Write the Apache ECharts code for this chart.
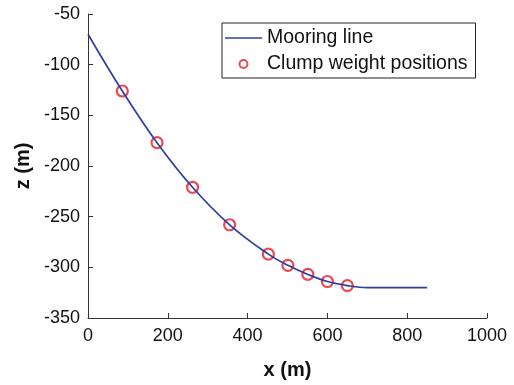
<!DOCTYPE html>
<html><head><meta charset="utf-8">
<script src="https://cdn.jsdelivr.net/npm/echarts@6/dist/echarts.min.js"></script>
<style>html,body{margin:0;padding:0;background:#fff}#c{width:514px;height:385px}</style>
</head><body><div id="c"></div>
<script>
const lineX = [0, 86, 173, 262, 355, 452, 501, 551, 600, 650, 700, 750, 800, 850];
const lineZ = [-70, -126, -177, -221, -258, -287, -298, -307, -314, -318, -320, -320, -320, -320];
const clumpX = [86, 173, 262, 355, 452, 501, 551, 600, 650];
const clumpZ = [-126, -177, -221, -258, -287, -298, -307, -314, -318];
const xTicks = [0, 200, 400, 600, 800, 1000];
const zTicks = [-350, -300, -250, -200, -150, -100, -50];

const chart = echarts.init(document.getElementById('c'));
const font = 'Liberation Sans, Arial, sans-serif';
chart.setOption({
  animation: false,
  grid: {left: 88, top: 14, right: 27, bottom: 65},
  legend: {
    orient: 'vertical', left: 222, top: 23,
    padding: [5, 8, 4, 3], itemGap: 6,
    borderColor: '#222', borderWidth: 1, backgroundColor: '#fff',
    itemWidth: 37, itemHeight: 8,
    textStyle: {fontFamily: font, fontSize: 19.5, color: '#111', padding: [0, 0, 0, 0]},
    data: [
      {name: 'Mooring line', icon: 'path://M0,0H37V0.02H0ZM0,3.2H37V4.8H0ZM0,7.98H37V8H0Z'},
      {name: 'Clump weight positions', icon: 'circle'}
    ]
  },
  xAxis: {
    type: 'value', min: 0, max: 1000, interval: 200,
    name: 'x (m)', nameLocation: 'middle', nameGap: 42,
    nameTextStyle: {fontFamily: font, fontSize: 20, fontWeight: 'bold', color: '#111'},
    axisLine: {show: true, lineStyle: {color: '#333'}},
    axisTick: {show: true, inside: true, length: 5, lineStyle: {color: '#333'}},
    axisLabel: {fontFamily: font, fontSize: 18, color: '#111', margin: 9,
      formatter: v => xTicks.includes(v) ? String(v) : ''},
    splitLine: {show: false}
  },
  yAxis: {
    type: 'value', min: -350, max: -50, interval: 50,
    name: 'z (m)', nameLocation: 'middle', nameGap: 54, nameRotate: 90,
    nameTextStyle: {fontFamily: font, fontSize: 20, fontWeight: 'bold', color: '#111'},
    axisLine: {show: true, lineStyle: {color: '#333'}},
    axisTick: {show: true, inside: true, length: 5, lineStyle: {color: '#333'}},
    axisLabel: {fontFamily: font, fontSize: 18, color: '#111', margin: 8,
      formatter: v => zTicks.includes(v) ? String(v) : ''},
    splitLine: {show: false}
  },
  series: [
    {
      name: 'Mooring line', type: 'line', smooth: 0.4,
      showSymbol: false, symbol: 'none',
      lineStyle: {color: '#2f3fa0', width: 1.7},
      itemStyle: {color: '#2f3fa0'},
      data: lineX.map((x, i) => [x, lineZ[i]])
    },
    {
      name: 'Clump weight positions', type: 'scatter',
      symbol: 'circle', symbolSize: 11,
      itemStyle: {color: 'rgba(255,255,255,0)', borderColor: '#e41e26', borderWidth: 2.2},
      data: clumpX.map((x, i) => [x, clumpZ[i]])
    }
  ]
});
</script></body></html>
